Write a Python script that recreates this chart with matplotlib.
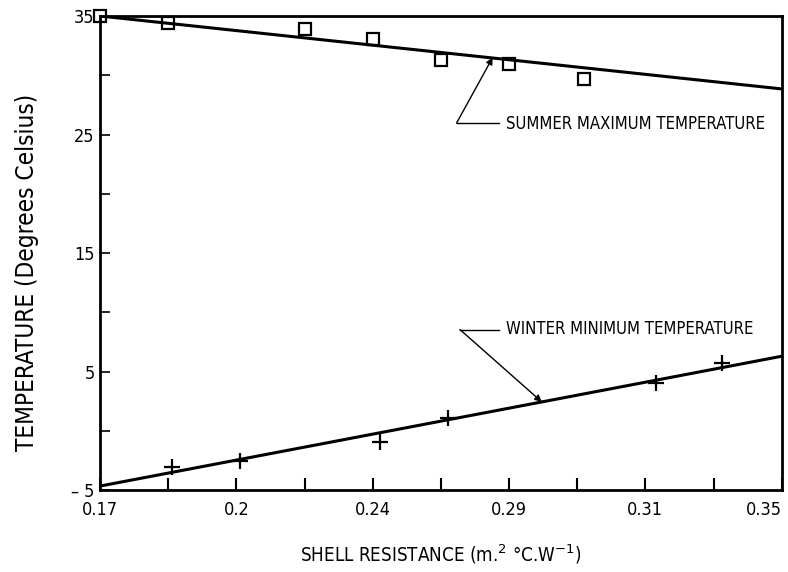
import matplotlib.pyplot as plt

# x axis is drawn on an index scale: the printed labels are not linear
tick_labels = ['0.17', '', '0.2', '', '0.24', '', '0.29', '', '0.31', '', '0.35']
y_ticks = [35, 25, 15, 5, -5]
y_tick_labels = ['35', '25', '15', '5', '\u2013 5']

summer_x = [0, 1, 3, 4, 5, 6, 7.1]
summer_y = [35.0, 34.4, 33.9, 33.1, 31.3, 30.95, 29.7]
summer_fit = [35.0, 28.85]

winter_x = [1.05, 2.05, 4.1, 5.1, 8.15, 9.12]
winter_y = [-3.05, -2.55, -0.95, 1.05, 4.05, 5.7]
winter_fit = [-4.65, 6.3]

fit_x = [0, 10]

fig = plt.figure(figsize=(7.88, 5.72), dpi=100)
ax = fig.add_axes([0.127, 0.143, 0.865, 0.829])

ax.plot(fit_x, summer_fit, color='black', lw=2.2)
ax.plot(fit_x, winter_fit, color='black', lw=2.2)
ax.plot(summer_x, summer_y, ls='none', marker='s', ms=8, mfc='none', mec='black', mew=1.6, clip_on=False)
ax.plot(winter_x, winter_y, ls='none', marker='+', ms=12, mec='black', mew=1.6)

ax.set_xlim(0, 10)
ax.set_ylim(-5, 35)
ax.set_xticks(range(len(tick_labels)))
ax.set_xticklabels(tick_labels)
ax.set_yticks(y_ticks)
ax.set_yticklabels(y_tick_labels)
ax.set_yticks([30, 20, 10, 0], minor=True)
ax.tick_params(axis='x', direction='in', length=9, width=1.5, labelsize=13, pad=8)
ax.tick_params(axis='y', which='both', direction='in', length=7, width=1.2, labelsize=13, pad=4)
for s in ax.spines.values():
    s.set_linewidth(2)
for lab in ax.get_xticklabels() + ax.get_yticklabels():
    lab.set_fontstretch('condensed')
# last label sits tight against the right edge
ax.get_xticklabels()[-1].set_horizontalalignment('right')

font = dict(family='DejaVu Sans', stretch='condensed')
ax.set_xlabel('SHELL RESISTANCE (m.$^{2}$ °C.W$^{-1}$)', fontsize=13.5, **font)
ax.xaxis.set_label_coords(0.5, -0.11)
ax.set_ylabel('TEMPERATURE (Degrees Celsius)', fontsize=17.5, **font)
ax.yaxis.set_label_coords(-0.09, 0.46)

# leader lines for the two fitted lines
arrow = dict(arrowstyle='-|>', color='black', lw=1.0, mutation_scale=10, shrinkA=0, shrinkB=0)
ax.plot([5.23, 5.85], [25.97, 25.97], color='black', lw=1.0)
ax.annotate('', xy=(5.76, 31.5), xytext=(5.23, 25.97), arrowprops=arrow)
ax.text(5.95, 25.9, 'SUMMER MAXIMUM TEMPERATURE', fontsize=12, va='center', **font)

ax.plot([5.28, 5.85], [8.55, 8.55], color='black', lw=1.0)
ax.annotate('', xy=(6.48, 2.45), xytext=(5.28, 8.55), arrowprops=arrow)
ax.text(5.95, 8.6, 'WINTER MINIMUM TEMPERATURE', fontsize=12, va='center', **font)

fig.savefig('out.png', dpi=100)
